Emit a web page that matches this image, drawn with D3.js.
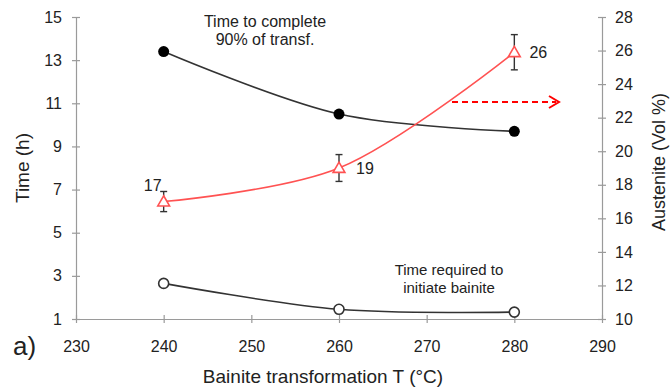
<!DOCTYPE html>
<html><head><meta charset="utf-8">
<script src="https://cdn.jsdelivr.net/npm/d3@7"></script>
<style>body{margin:0;background:#fff;}svg{display:block;font-family:Arial,"Liberation Sans",sans-serif;}</style>
</head><body>
<svg id="c" width="672" height="392"></svg>
<script>
const temps = [240, 260, 280];
const timeComplete = [13.4, 10.5, 9.7];
const timeInitiate = [2.65, 1.45, 1.32];
const austenite = [17.0, 19.0, 25.9];
const austeniteErr = [0.6, 0.8, 1.05];
const austeniteLabels = ["17", "19", "26"];
const xTicks = [230, 240, 250, 260, 270, 280, 290];
const yLeftTicks = [1, 3, 5, 7, 9, 11, 13, 15];
const yRightTicks = [10, 12, 14, 16, 18, 20, 22, 24, 26, 28];

const svg = d3.select("#c");
const x = d3.scaleLinear().domain([230, 290]).range([76, 602]);
const yL = d3.scaleLinear().domain([1, 15]).range([319, 17]);
const yR = d3.scaleLinear().domain([10, 28]).range([319, 17]);
const axisColor = "#9a9a9a";
const txt = "#222";
const ff = "Arial, 'Liberation Sans', sans-serif";

// axes
const gx = svg.append("g").attr("transform", `translate(0,${yL(1)})`)
  .call(d3.axisBottom(x).tickValues(xTicks).tickSize(5).tickSizeOuter(0).tickPadding(17));
const gl = svg.append("g").attr("transform", `translate(${x(230)},0)`)
  .call(d3.axisLeft(yL).tickValues(yLeftTicks).tickSize(5).tickSizeOuter(0).tickPadding(9));
const gr = svg.append("g").attr("transform", `translate(${x(290)},0)`)
  .call(d3.axisRight(yR).tickValues(yRightTicks).tickSize(5).tickSizeOuter(0).tickPadding(8));
[gx, gl, gr].forEach(g => {
  g.selectAll("path.domain, line").attr("stroke", axisColor).attr("stroke-width", 1.2);
  g.selectAll("text").attr("fill", txt).style("font-size", "16px").style("font-family", ff);
});
gl.selectAll(".tick line").attr("x2", 4).attr("x1", -4);
gr.selectAll(".tick line").attr("x1", -4).attr("x2", 4);
gx.selectAll(".tick line").attr("y1", -4).attr("y2", 4);

// axis titles
svg.append("text").attr("x", 323).attr("y", 383).attr("text-anchor", "middle")
  .attr("fill", txt).style("font-size", "19px").text("Bainite transformation T (°C)");
svg.append("text").attr("transform", "translate(29,168) rotate(-90)").attr("text-anchor", "middle")
  .attr("fill", txt).style("font-size", "19px").text("Time (h)");
svg.append("text").attr("transform", "translate(665,162) rotate(-90)").attr("text-anchor", "middle")
  .attr("fill", txt).style("font-size", "18px").text("Austenite (Vol %)");
svg.append("text").attr("x", 13).attr("y", 355).attr("fill", txt)
  .style("font-size", "26px").text("a)");

const curve = d3.curveCatmullRom.alpha(0.5);

// Time to complete
const lineL = d3.line().x((d, i) => x(temps[i])).curve(curve);
svg.append("path").attr("d", lineL.y(d => yL(d))(timeComplete))
  .attr("fill", "none").attr("stroke", "#333").attr("stroke-width", 1.6);
svg.selectAll(".dc").data(timeComplete).join("circle")
  .attr("cx", (d, i) => x(temps[i])).attr("cy", d => yL(d)).attr("r", 5.5).attr("fill", "#000");

// Time to initiate
svg.append("path").attr("d", lineL.y(d => yL(d))(timeInitiate))
  .attr("fill", "none").attr("stroke", "#333").attr("stroke-width", 1.6);
svg.selectAll(".di").data(timeInitiate).join("circle")
  .attr("cx", (d, i) => x(temps[i])).attr("cy", d => yL(d)).attr("r", 5)
  .attr("fill", "#fff").attr("stroke", "#333").attr("stroke-width", 1.6);

// Austenite
const red = "#ff5252";
svg.append("path").attr("d", d3.line().x((d, i) => x(temps[i])).y(d => yR(d)).curve(curve)(austenite))
  .attr("fill", "none").attr("stroke", red).attr("stroke-width", 1.6);
const eb = svg.append("g");
austenite.forEach((v, i) => {
  const cx = x(temps[i]);
  const y1 = yR(v + austeniteErr[i]), y2 = yR(v - austeniteErr[i]);
  eb.append("line").attr("x1", cx).attr("x2", cx).attr("y1", y1).attr("y2", y2).attr("stroke", "#333").attr("stroke-width", 1.4);
  [y1, y2].forEach(yy => eb.append("line").attr("x1", cx - 3.5).attr("x2", cx + 3.5).attr("y1", yy).attr("y2", yy).attr("stroke", "#333").attr("stroke-width", 1.4));
});
const tri = d3.symbol().type(d3.symbolTriangle).size(60);
svg.selectAll(".ta").data(austenite).join("path")
  .attr("transform", (d, i) => `translate(${x(temps[i])},${yR(d) + 1})`)
  .attr("d", tri).attr("fill", "#fff").attr("stroke", red).attr("stroke-width", 1.6);

// data labels
const lblOff = [[-11, -11], [26, 6], [24, 6]];
svg.selectAll(".lb").data(austenite).join("text")
  .attr("x", (d, i) => x(temps[i]) + lblOff[i][0]).attr("y", (d, i) => yR(d) + lblOff[i][1])
  .attr("text-anchor", "middle").attr("fill", txt).style("font-size", "16px")
  .text((d, i) => austeniteLabels[i]);

// annotations
const a1 = svg.append("text").attr("text-anchor", "middle").attr("fill", txt).style("font-size", "16px");
a1.append("tspan").attr("x", 265).attr("y", 27).text("Time to complete");
a1.append("tspan").attr("x", 265).attr("y", 45).text("90% of transf.");
const a2 = svg.append("text").attr("text-anchor", "middle").attr("fill", txt).style("font-size", "15px");
a2.append("tspan").attr("x", 449).attr("y", 275).text("Time required to");
a2.append("tspan").attr("x", 449).attr("y", 293).text("initiate bainite");

// dashed arrow pointing to right axis
const ay = 102;
svg.append("line").attr("x1", 452).attr("x2", 556).attr("y1", ay).attr("y2", ay)
  .attr("stroke", "#f00").attr("stroke-width", 2).attr("stroke-dasharray", "6,4");
svg.append("path").attr("d", `M${549},${ay - 6} L${559},${ay} L${549},${ay + 6}`)
  .attr("fill", "none").attr("stroke", "#f00").attr("stroke-width", 2);
</script>
</body></html>
